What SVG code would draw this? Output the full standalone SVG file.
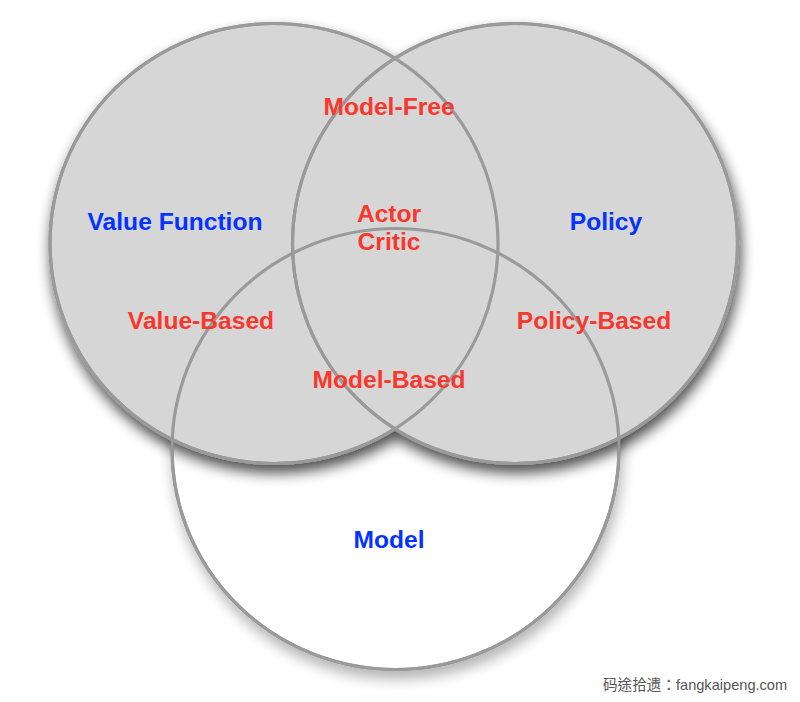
<svg xmlns="http://www.w3.org/2000/svg" xmlns:xlink="http://www.w3.org/1999/xlink" width="800" height="702" viewBox="0 0 800 702">
  <defs>
    <filter id="shadow" x="-20%" y="-20%" width="140%" height="140%">
      <feGaussianBlur in="SourceAlpha" stdDeviation="7"/>
      <feOffset dx="2" dy="8" result="b"/>
      <feComponentTransfer><feFuncA type="linear" slope="0.7"/></feComponentTransfer>
      <feMerge><feMergeNode/><feMergeNode in="SourceGraphic"/></feMerge>
    </filter>
    <filter id="shadowLight" x="-20%" y="-20%" width="140%" height="140%">
      <feGaussianBlur in="SourceAlpha" stdDeviation="7"/>
      <feOffset dx="2" dy="8" result="b"/>
      <feComponentTransfer><feFuncA type="linear" slope="0.3"/></feComponentTransfer>
      <feMerge><feMergeNode/><feMergeNode in="SourceGraphic"/></feMerge>
    </filter>
    <ellipse id="cValue" cx="274" cy="243.5" rx="224" ry="220"/>
    <ellipse id="cPolicy" cx="515" cy="243.5" rx="222.5" ry="220"/>
    <ellipse id="cModel" cx="395.5" cy="449" rx="223.5" ry="220.5"/>
  </defs>
  <style>
    .outline { fill: none; stroke: #9a9a9a; stroke-width: 3.2; }
    .set { font-family: "Liberation Sans", Arial, sans-serif; font-weight: bold; font-size: 24.6px; fill: #0433ff; text-anchor: middle; }
    .region { font-family: "Liberation Sans", Arial, sans-serif; font-weight: bold; font-size: 24.6px; fill: #f8372d; text-anchor: middle; }
    .mark { font-family: "Liberation Sans", "Noto Sans CJK TC", sans-serif; font-size: 14.6px; fill: #555555; }
  </style>
  <rect width="800" height="702" fill="#ffffff"/>

  <g id="node-model" filter="url(#shadowLight)">
    <use xlink:href="#cModel" fill="#ffffff" stroke="#9a9a9a" stroke-width="3.2"/>
  </g>
  <g id="top-sets" filter="url(#shadow)">
    <g id="node-value-function">
      <use xlink:href="#cValue" fill="#d6d6d6" stroke="#9a9a9a" stroke-width="3.2"/>
    </g>
    <g id="node-policy">
      <use xlink:href="#cPolicy" fill="#d6d6d6" stroke="#9a9a9a" stroke-width="3.2"/>
    </g>
  </g>
  <g id="outlines">
    <use xlink:href="#cValue" class="outline"/>
    <use xlink:href="#cPolicy" class="outline"/>
    <use xlink:href="#cModel" class="outline"/>
  </g>

  <g id="labels">
    <text class="set" x="175" y="230">Value Function</text>
    <text class="set" x="606" y="230">Policy</text>
    <text class="set" x="389" y="548">Model</text>
    <text class="region" x="389" y="115">Model-Free</text>
    <text class="region" x="389" y="222">Actor</text>
    <text class="region" x="389" y="250">Critic</text>
    <text class="region" x="201" y="329">Value-Based</text>
    <text class="region" x="594" y="329">Policy-Based</text>
    <text class="region" x="389" y="388">Model-Based</text>
  </g>
  <text class="mark" x="603" y="690">码途拾遗：fangkaipeng.com</text>
</svg>
